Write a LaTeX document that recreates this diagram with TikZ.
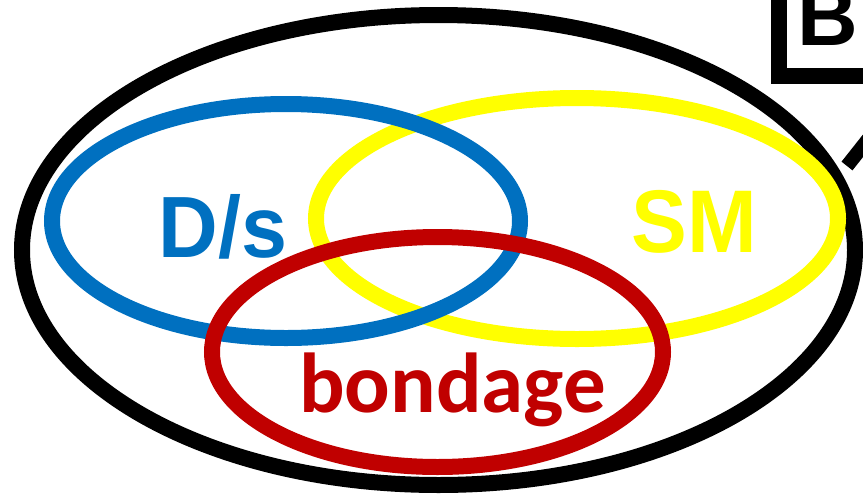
\documentclass[tikz,border=0pt]{standalone}
\usepackage{fontspec}
\setmainfont{Liberation Sans}
\newfontfamily\calibrifont{Carlito}
\definecolor{dsblue}{HTML}{0070C0}
\definecolor{smyellow}{HTML}{FFFF00}
\definecolor{bdred}{HTML}{C00000}
\begin{document}
\begin{tikzpicture}[x=1pt,y=-1pt,
  ring/.style={line width=16pt},
  lbl/.style={inner sep=0pt,anchor=base}]
\useasboundingbox (0,0) rectangle (863,496);
\clip (0,0) rectangle (863,496);
% outer black ellipse
\draw[ring,black] (438.5,250) ellipse [x radius=416.5pt, y radius=235pt];
% branch line at the right
\draw[line width=14pt,black] (847,166) -- (885,118);
% B box
\draw[line width=16pt,black] (778.5,-20) -- (778.5,75.5) -- (890,75.5);
\node[inner sep=0pt,anchor=base west,font=\bfseries\fontsize{84}{84}\selectfont] (blabel) at (797,45) {B};
% sets
\draw[ring,smyellow] (577,218.5) ellipse [x radius=261pt, y radius=120.5pt];
\draw[ring,dsblue] (286,221) ellipse [x radius=234pt, y radius=117pt];
\draw[ring,bdred] (437.5,352) ellipse [x radius=225.5pt, y radius=115pt];
% labels
\node[lbl,text=dsblue,xscale=0.95,font=\bfseries\fontsize{87}{87}\selectfont] (ds) at (223,257) {D/s};
\node[lbl,text=smyellow,xscale=0.94,font=\bfseries\fontsize{89}{89}\selectfont] (sm) at (694,252) {SM};
\node[lbl,text=bdred,font=\calibrifont\bfseries\fontsize{85}{85}\selectfont] (bondage) at (452.5,412) {bondage};
\end{tikzpicture}
\end{document}
